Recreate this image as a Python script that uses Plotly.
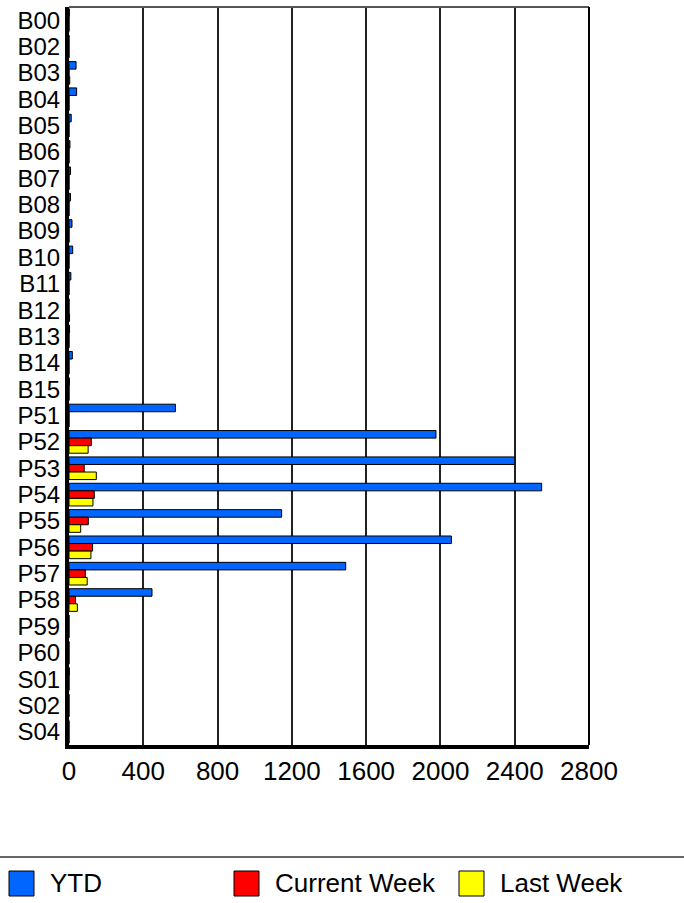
import plotly.graph_objects as go

# categories, top to bottom
codes = ["B00", "B02", "B03", "B04", "B05", "B06", "B07", "B08", "B09", "B10",
         "B11", "B12", "B13", "B14", "B15", "P51", "P52", "P53", "P54", "P55",
         "P56", "P57", "P58", "P59", "P60", "S01", "S02", "S04"]

ytd = [2, 0, 38, 41, 12, 5, 8, 8, 16, 20,
       10, 0, 3, 18, 2, 573, 1976, 2400, 2545, 1145,
       2059, 1490, 447, 0, 0, 2, 0, 0]
current_week = [0, 0, 0, 0, 0, 0, 0, 0, 0, 0,
                0, 0, 0, 0, 0, 0, 120, 82, 136, 104,
                127, 88, 35, 0, 0, 0, 0, 0]
last_week = [0, 0, 4, 0, 0, 0, 0, 0, 0, 0,
             0, 3, 0, 0, 0, 0, 103, 147, 129, 63,
             118, 98, 45, 0, 0, 0, 0, 0]

series = [("YTD", ytd, "#0066ff"),
          ("Current Week", current_week, "#ff0000"),
          ("Last Week", last_week, "#ffff00")]

x_ticks = [0, 400, 800, 1200, 1600, 2000, 2400, 2800]

FONT = "Liberation Sans, Arial, sans-serif"

# plot area in pixels (684 x 903 page)
L, R, T, B = 69, 589, 7, 745
W, H = R - L, B - T


def px_x(x):
    return (x - L) / W


def px_y(y):
    return (B - y) / H


fig = go.Figure()
for name, vals, color in series:
    fig.add_trace(go.Bar(
        y=codes, x=vals, name=name, orientation="h",
        marker=dict(color=color, line=dict(color="black", width=1)),
        showlegend=False,
    ))

shapes = [
    # top border
    dict(type="line", xref="paper", yref="paper", x0=0, x1=1, y0=1, y1=1,
         line=dict(color="#555555", width=2)),
    # right border
    dict(type="line", xref="paper", yref="paper", x0=1, x1=1, y0=0, y1=1,
         line=dict(color="black", width=2)),
    # legend separator
    dict(type="line", xref="paper", yref="paper", x0=px_x(0), x1=px_x(684),
         y0=px_y(857), y1=px_y(857), line=dict(color="#666666", width=2)),
]
annotations = []
legend_x = [9, 234, 459]
for (name, vals, color), lx in zip(series, legend_x):
    shapes.append(dict(type="rect", xref="paper", yref="paper",
                       x0=px_x(lx), x1=px_x(lx + 25), y0=px_y(896), y1=px_y(871),
                       fillcolor=color, line=dict(color="black", width=1)))
    annotations.append(dict(text=name, xref="paper", yref="paper",
                            x=px_x(lx + 39), y=px_y(883), xanchor="left", yanchor="middle",
                            showarrow=False, font=dict(size=26, color="black", family=FONT)))

fig.update_layout(
    width=684, height=903,
    margin=dict(l=L, r=684 - R, t=T, b=903 - B),
    paper_bgcolor="white", plot_bgcolor="white",
    barmode="group", bargap=0.14, bargroupgap=0,
    font=dict(family=FONT, size=26, color="black"),
    shapes=shapes, annotations=annotations,
    xaxis=dict(range=[0, 2800], tickmode="array", tickvals=x_ticks,
               ticktext=[str(v) for v in x_ticks],
               showgrid=True, gridcolor="#222222", gridwidth=2, zeroline=False,
               showline=True, linecolor="black", linewidth=4,
               ticks="", tickfont=dict(size=26)),
    yaxis=dict(autorange="reversed", type="category", tickmode="array", tickvals=codes,
               showgrid=False, zeroline=False,
               showline=True, linecolor="black", linewidth=4,
               ticks="", tickfont=dict(size=24)),
)

fig.write_html("out.html", config={"displayModeBar": False},
               post_script="document.body.style.margin='0';")
